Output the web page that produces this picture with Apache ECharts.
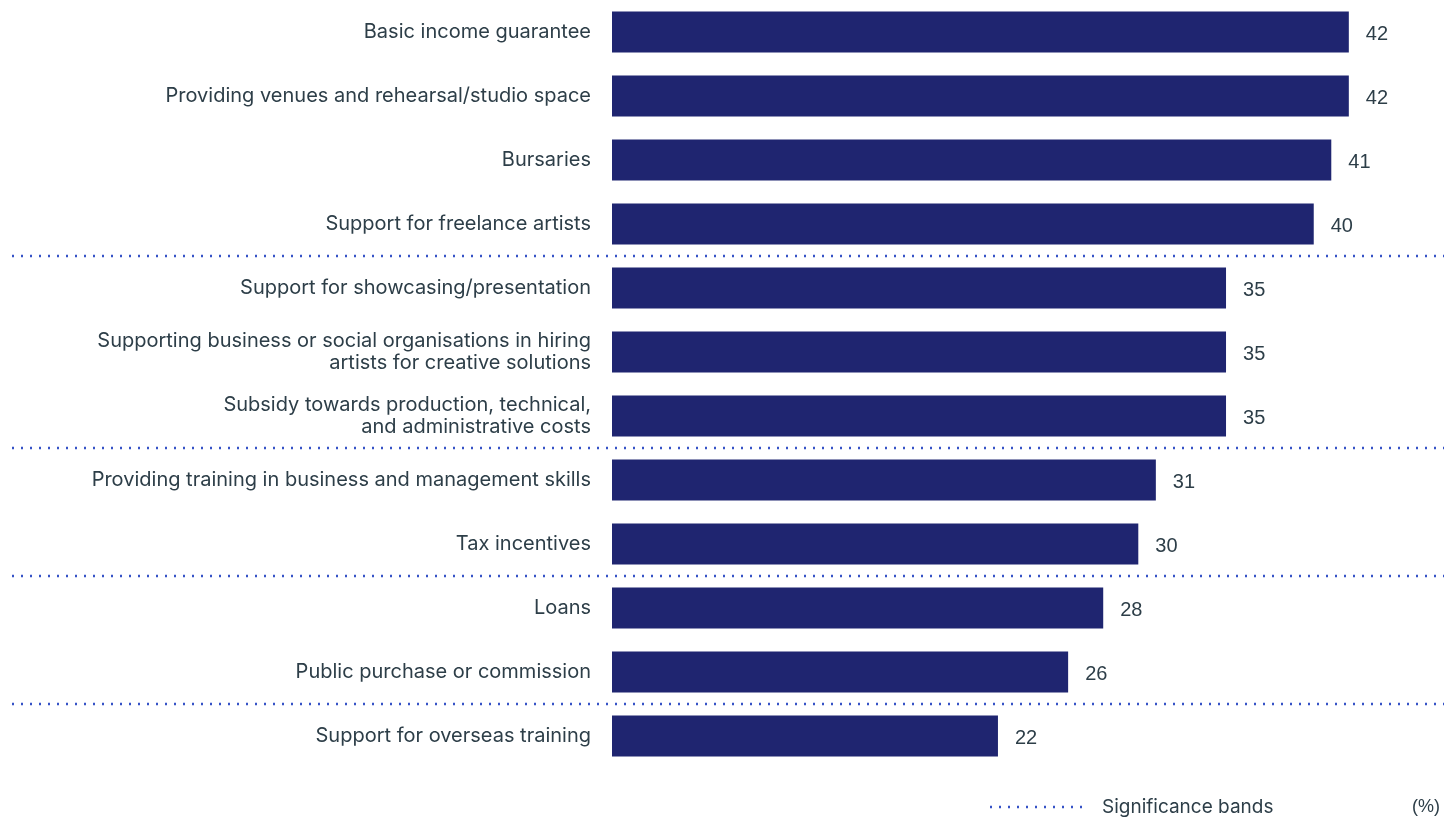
<!DOCTYPE html>
<html>
<head>
<meta charset="utf-8">
<script src="https://cdn.jsdelivr.net/npm/echarts@6/dist/echarts.min.js"></script>
<style>
  html, body { margin: 0; padding: 0; background: #ffffff; }
  #chart { width: 1454px; height: 818px; }
</style>
</head>
<body>
<div id="chart"></div>
<script>
// Support measures, share of respondents (%)
const categories = [
  'Basic income guarantee',
  'Providing venues and rehearsal/studio space',
  'Bursaries',
  'Support for freelance artists',
  'Support for showcasing/presentation',
  'Supporting business or social organisations in hiring\nartists for creative solutions',
  'Subsidy towards production, technical,\nand administrative costs',
  'Providing training in business and management skills',
  'Tax incentives',
  'Loans',
  'Public purchase or commission',
  'Support for overseas training'
];
const values = [42, 42, 41, 40, 35, 35, 35, 31, 30, 28, 26, 22];
// significance bands begin at these category indices
const bandStarts = [4, 7, 9, 11];

const textColor = '#2d3e48';
const barColor = '#1f2570';
const dotColor = '#3552c6';
const labelFont = 'Inter, "Noto Sans", sans-serif';
const numberFont = '"Liberation Sans", Arial, sans-serif';

const chart = echarts.init(document.getElementById('chart'));
chart.setOption({
  animation: false,
  grid: [
    // full-width grid carrying the significance band separators
    { left: 12, right: 10, top: 0, bottom: 50 },
    // bar grid
    { left: 612, right: 35, top: 0, bottom: 50 }
  ],
  xAxis: [
    { gridIndex: 0, type: 'value', min: 0, max: 1, show: false },
    { gridIndex: 1, type: 'value', min: 0, max: 46, show: false }
  ],
  yAxis: [
    {
      gridIndex: 0, type: 'value', min: 0, max: categories.length, inverse: true,
      show: false, splitLine: { show: false }
    },
    {
      gridIndex: 1, type: 'category', data: categories, inverse: true,
      axisLine: { show: false }, axisTick: { show: false },
      axisLabel: {
        margin: 21, fontSize: 20, lineHeight: 22, color: textColor,
        fontFamily: labelFont, align: 'right'
      },
      splitLine: { show: false }
    }
  ],
  series: [
    {
      type: 'line', xAxisIndex: 0, yAxisIndex: 0, data: [],
      silent: true,
      markLine: {
        silent: true, symbol: 'none', label: { show: false },
        lineStyle: { color: dotColor, width: 2.4, type: [2, 7] },
        data: bandStarts.map(function (i) { return { yAxis: i }; })
      }
    },
    {
      type: 'bar', xAxisIndex: 1, yAxisIndex: 1, data: values,
      barWidth: 41,
      itemStyle: { color: barColor },
      label: {
        show: true, position: 'right', distance: 17, offset: [0, 2],
        fontSize: 20, color: textColor, fontFamily: numberFont
      }
    }
  ],
  graphic: [
    {
      type: 'line', shape: { x1: 990, y1: 807, x2: 1084, y2: 807 },
      style: { stroke: dotColor, lineWidth: 2.4, lineDash: [2, 7] }
    },
    {
      type: 'text', x: 1102, y: 807,
      style: { text: 'Significance bands', fontSize: 19, fill: textColor, fontFamily: labelFont, verticalAlign: 'middle' }
    },
    {
      type: 'text', x: 1440, y: 807,
      style: { text: '(%)', fontSize: 18, fill: textColor, fontFamily: numberFont, align: 'right', verticalAlign: 'middle' }
    }
  ]
});
</script>
</body>
</html>
